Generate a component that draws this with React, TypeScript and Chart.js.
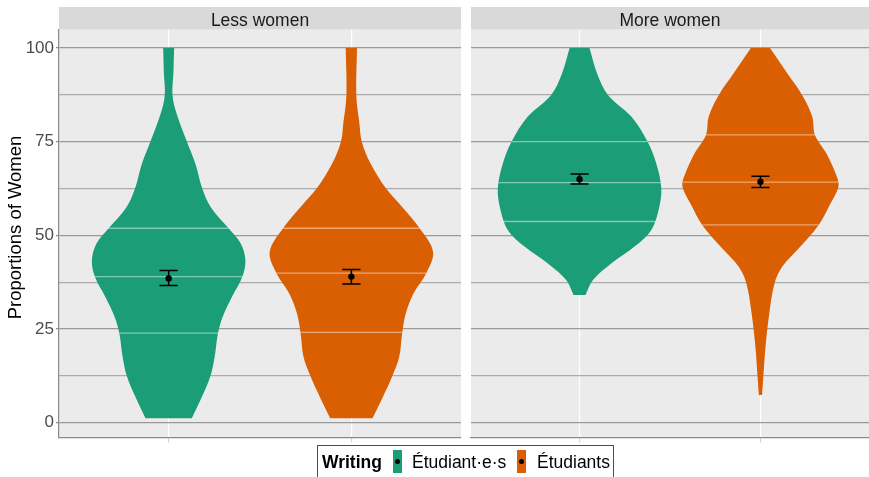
import React, { useEffect, useRef } from 'react';
import { Chart, registerables } from 'chart.js';

Chart.register(...registerables);

// ---------- data ----------
const FACETS = ['Less women', 'More women'];
const GROUPS = ['Étudiant·e·s', 'Étudiants'];
const GROUP_POS = [1, 2];
const COLORS = ['#1B9E77', '#D95F02'];
const LEGEND_TITLE = 'Writing';
const Y_TITLE = 'Proportions of Women';

const Y_TICKS = [0, 12.5, 25, 37.5, 50, 62.5, 75, 87.5, 100];
const Y_LABELS = ['0', '', '25', '', '50', '', '75', '', '100'];

// Violin outlines: y values and half-widths (in category units)
const lessInclY = [1.2, 6.9, 12.3, 17.6, 23.9, 28.3, 33.6, 39.0, 43.4, 47.9, 51.9, 57.6, 62.5, 69.2, 75.0, 82.6, 87.5, 93.2, 100];
const lessInclW = [0.127, 0.182, 0.228, 0.252, 0.27, 0.296, 0.347, 0.404, 0.42, 0.394, 0.328, 0.23, 0.184, 0.146, 0.1, 0.043, 0.021, 0.026, 0.03];

const lessMascY = [1.2, 6.9, 12.3, 17.6, 23.9, 29.2, 34.5, 39.9, 45.6, 51.9, 57.6, 62.5, 69.2, 75.0, 79.9, 87.5, 100];
const lessMascW = [0.116, 0.173, 0.223, 0.262, 0.278, 0.298, 0.34, 0.41, 0.447, 0.374, 0.278, 0.19, 0.105, 0.057, 0.044, 0.027, 0.031];

const moreInclY = [34.1, 38.1, 42.5, 47.0, 51.4, 56.8, 62.5, 69.2, 75.0, 81.7, 87.5, 93.2, 100];
const moreInclW = [0.033, 0.074, 0.175, 0.304, 0.396, 0.437, 0.452, 0.424, 0.376, 0.286, 0.157, 0.097, 0.055];

const moreMascY = [7.4, 12.3, 20.3, 29.2, 37.2, 41.6, 47.0, 52.8, 58.5, 63.0, 65.7, 71.9, 76.8, 81.7, 87.5, 93.2, 100];
const moreMascW = [0.009, 0.016, 0.028, 0.049, 0.078, 0.12, 0.221, 0.322, 0.387, 0.431, 0.422, 0.364, 0.301, 0.286, 0.23, 0.149, 0.053];

// Quantile lines (25%, 50%, 75%): values and half-widths
const lessInclQ = [23.9, 39.0, 51.9];
const lessInclQW = [0.27, 0.404, 0.328];
const lessMascQ = [24.1, 39.9, 51.9];
const lessMascQW = [0.278, 0.41, 0.374];
const moreInclQ = [53.7, 64.1, 75.0];
const moreInclQW = [0.424, 0.45, 0.376];
const moreMascQ = [52.8, 64.2, 76.8];
const moreMascQW = [0.322, 0.431, 0.301];

// Means and confidence intervals
const lessMeans = [38.5, 39.0];
const lessLow = [36.6, 37.0];
const lessHigh = [40.6, 40.9];
const moreMeans = [65.0, 64.3];
const moreLow = [63.7, 62.8];
const moreHigh = [66.4, 65.8];

const CAP = 0.05;

const FONT = '"Liberation Sans", Arial, Helvetica, sans-serif';

type Pt = { x: number; y: number | null };

function violinShape(center: number, ys: number[], ws: number[]): Pt[] {
  const right = ys.map((y, i) => ({ x: center + ws[i], y }));
  const left = ys.map((y, i) => ({ x: center - ws[i], y })).reverse();
  const r0 = right[0], rn = right[right.length - 1];
  const l0 = left[0], ln = left[left.length - 1];
  return [r0, ...right, rn, l0, ...left, ln];
}

function quantileLines(center: number, qs: number[], qw: number[]): Pt[] {
  const out: Pt[] = [];
  qs.forEach((q, i) => {
    out.push({ x: center - qw[i], y: q });
    out.push({ x: center + qw[i], y: q });
    out.push({ x: center, y: null });
  });
  return out;
}

function errorBars(lo: number[], hi: number[]): Pt[] {
  const out: Pt[] = [];
  GROUP_POS.forEach((c, i) => {
    out.push({ x: c - CAP, y: hi[i] }, { x: c + CAP, y: hi[i] }, { x: c, y: null });
    out.push({ x: c, y: hi[i] }, { x: c, y: lo[i] }, { x: c, y: null });
    out.push({ x: c - CAP, y: lo[i] }, { x: c + CAP, y: lo[i] }, { x: c, y: null });
  });
  return out;
}

const stripPlugin = {
  id: 'strip',
  beforeDraw(chart: any, _args: any, opts: any) {
    const { ctx, chartArea } = chart;
    ctx.save();
    ctx.fillStyle = '#EBEBEB';
    ctx.fillRect(chartArea.left, chartArea.top, chartArea.right - chartArea.left, chartArea.bottom - chartArea.top);
    ctx.fillStyle = '#D9D9D9';
    ctx.fillRect(chartArea.left, 7, chartArea.right - chartArea.left, chartArea.top - 7);
    ctx.fillStyle = '#1A1A1A';
    ctx.font = `17.5px ${FONT}`;
    ctx.textAlign = 'center';
    ctx.textBaseline = 'alphabetic';
    ctx.fillText(opts.text, (chartArea.left + chartArea.right) / 2, 25.5);
    if (opts.yTitle) {
      ctx.translate(20.5, 227.5);
      ctx.rotate(-Math.PI / 2);
      ctx.fillStyle = '#000000';
      ctx.font = `18.5px ${FONT}`;
      ctx.textAlign = 'center';
      ctx.textBaseline = 'alphabetic';
      ctx.fillText(opts.yTitle, 0, 0);
    }
    ctx.restore();
  },
};

const zeroPadding = (s: any) => {
  s.paddingTop = 0;
  s.paddingBottom = 0;
  s.paddingLeft = 0;
  s.paddingRight = 0;
};

function buildConfig(facet: number) {
  const isLeft = facet === 0;
  const shapes = isLeft
    ? [violinShape(1, lessInclY, lessInclW), violinShape(2, lessMascY, lessMascW)]
    : [violinShape(1, moreInclY, moreInclW), violinShape(2, moreMascY, moreMascW)];
  const qlines = isLeft
    ? [quantileLines(1, lessInclQ, lessInclQW), quantileLines(2, lessMascQ, lessMascQW)]
    : [quantileLines(1, moreInclQ, moreInclQW), quantileLines(2, moreMascQ, moreMascQW)];
  const means = isLeft ? lessMeans : moreMeans;
  const lo = isLeft ? lessLow : moreLow;
  const hi = isLeft ? lessHigh : moreHigh;

  const datasets: any[] = [];
  shapes.forEach((s, i) => {
    datasets.push({
      label: GROUPS[i],
      data: s,
      showLine: true,
      fill: 'shape',
      backgroundColor: COLORS[i],
      borderColor: 'rgba(0,0,0,0)',
      borderWidth: 0,
      pointRadius: 0,
      pointHoverRadius: 0,
      tension: 0.35,
      order: 4,
    });
  });
  qlines.forEach((q, i) => {
    datasets.push({
      label: GROUPS[i] + ' quantiles',
      data: q,
      showLine: true,
      spanGaps: false,
      fill: false,
      borderColor: 'rgba(255,255,255,0.45)',
      borderWidth: 1.3,
      pointRadius: 0,
      pointHoverRadius: 0,
      order: 3,
    });
  });
  datasets.push({
    label: 'CI',
    data: errorBars(lo, hi),
    showLine: true,
    spanGaps: false,
    fill: false,
    borderColor: '#000000',
    borderWidth: 1.5,
    pointRadius: 0,
    pointHoverRadius: 0,
    order: 2,
  });
  datasets.push({
    label: 'Mean',
    data: GROUP_POS.map((c, i) => ({ x: c, y: means[i] })),
    showLine: false,
    pointRadius: 3.2,
    pointHoverRadius: 3.2,
    pointBackgroundColor: '#000000',
    pointBorderWidth: 0,
    order: 1,
  });

  return {
    type: 'scatter',
    data: { datasets },
    plugins: [stripPlugin],
    options: {
      animation: false,
      responsive: false,
      maintainAspectRatio: false,
      events: [],
      layout: { autoPadding: false, padding: { top: 29.5, right: isLeft ? 2 : 0, left: 0, bottom: 0 } },
      plugins: {
        legend: { display: false },
        tooltip: { enabled: false },
        strip: { text: FACETS[facet], yTitle: isLeft ? Y_TITLE : '' },
      },
      scales: {
        x: {
          type: 'linear',
          min: 0.4,
          max: 2.6,
          afterBuildTicks: (s: any) => {
            s.ticks = GROUP_POS.map((v) => ({ value: v }));
          },
          afterFit: (s: any) => {
            s.height = 9.5;
            zeroPadding(s);
          },
          ticks: { display: false },
          grid: {
            color: '#FFFFFF',
            lineWidth: 1.2,
            drawTicks: true,
            tickLength: 5,
            tickColor: '#D4D4D4',
            z: -1,
          },
          border: { display: true, color: '#8A8A8A', width: 1.2 },
        },
        y: {
          type: 'linear',
          min: -3.95,
          max: 104.95,
          afterBuildTicks: (s: any) => {
            s.ticks = Y_TICKS.map((v) => ({ value: v }));
          },
          afterFit: (s: any) => {
            s.width = isLeft ? 59 : 2;
            zeroPadding(s);
          },
          ticks: {
            display: isLeft,
            callback: (_v: any, i: number) => Y_LABELS[i],
            color: '#4D4D4D',
            font: { family: FONT, size: 17 },
            padding: 2,
          },
          grid: {
            color: (ctx: any) => (ctx.tick && ctx.tick.value % 25 === 0 ? '#9A9A9A' : '#ABABAB'),
            lineWidth: 1.2,
            drawTicks: isLeft,
            tickLength: 3,
            tickColor: (ctx: any) => (ctx.tick && ctx.tick.value % 25 === 0 ? '#8A8A8A' : 'rgba(0,0,0,0)'),
          },
          border: { display: isLeft, color: '#8A8A8A', width: 1.2 },
          title: { display: false },
        },
      },
    },
  };
}

function Facet({ facet, left, width }: { facet: number; left: number; width: number }) {
  const ref = useRef<HTMLCanvasElement | null>(null);
  useEffect(() => {
    if (!ref.current) return;
    const chart = new Chart(ref.current, buildConfig(facet) as any);
    return () => chart.destroy();
  }, [facet]);
  return (
    <canvas
      ref={ref}
      width={width}
      height={447}
      style={{ position: 'absolute', left, top: 0, width, height: 447 }}
    />
  );
}

export default function App() {
  const textStyle: React.CSSProperties = {
    position: 'absolute',
    top: 0,
    height: 32,
    lineHeight: '32px',
    fontSize: 17.5,
    color: '#000',
    whiteSpace: 'nowrap',
  };
  return (
    <div
      style={{
        position: 'absolute',
        left: 0,
        top: 0,
        width: 869,
        height: 477,
        background: '#FFFFFF',
        overflow: 'hidden',
        fontFamily: FONT,
      }}
    >
      <Facet facet={0} left={0} width={463} />
      <Facet facet={1} left={469} width={400} />
      <div
        style={{
          position: 'absolute',
          left: 317,
          top: 445,
          width: 297,
          height: 40,
          border: '1px solid #4D4D4D',
          boxSizing: 'border-box',
        }}
      >
        <span style={{ ...textStyle, left: 4, fontWeight: 'bold' }}>{LEGEND_TITLE}</span>
        {GROUPS.map((g, i) => {
          const keyLeft = i === 0 ? 75 : 199;
          const textLeft = i === 0 ? 94 : 219;
          return (
            <React.Fragment key={g}>
              <div
                style={{
                  position: 'absolute',
                  left: keyLeft,
                  top: 4,
                  width: 8.5,
                  height: 23,
                  background: COLORS[i],
                }}
              />
              <div
                style={{
                  position: 'absolute',
                  left: keyLeft + 4.25 - 2.5,
                  top: 4 + 11.5 - 2.5,
                  width: 5,
                  height: 5,
                  borderRadius: '50%',
                  background: '#000',
                }}
              />
              <span style={{ ...textStyle, left: textLeft }}>{g}</span>
            </React.Fragment>
          );
        })}
      </div>
    </div>
  );
}
